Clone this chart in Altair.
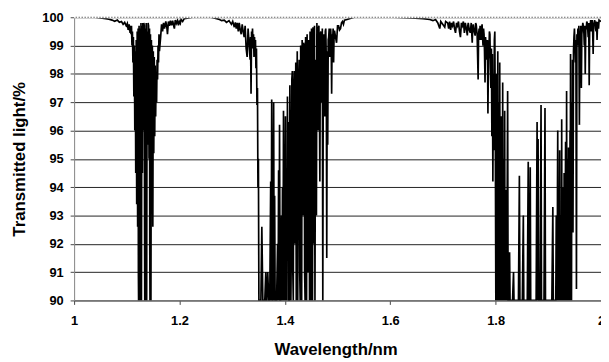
import altair as alt
import pandas as pd

# (wavelength nm, transmitted light %) pairs
shoulder_1 = [
    (1.000, 100), (1.040, 100), (1.050, 99.98), (1.060, 99.95), (1.066, 99.93),
    (1.072, 99.9), (1.077, 99.86), (1.082, 99.9), (1.086, 99.82), (1.090, 99.85),
    (1.093, 99.75), (1.096, 99.82), (1.0989, 99.7), (1.1010, 99.78), (1.1026, 99.55),
    (1.1045, 99.75), (1.1063, 99.45), (1.1072, 99.7),
]

band_1 = [
    (1.1080, 99.4), (1.1089, 99.7), (1.1098, 99.0), (1.1107, 99.5), (1.1116, 98.4),
    (1.1125, 99.3), (1.1134, 97.2), (1.1143, 99.0), (1.1152, 96.0), (1.1161, 98.8),
    (1.1170, 94.5), (1.1179, 99.2), (1.1188, 93.4), (1.1197, 99.5), (1.1206, 92.6),
    (1.1215, 99.6), (1.1220, 91), (1.1224, 90), (1.1228, 96), (1.1233, 99.7),
    (1.1238, 92), (1.1242, 90), (1.1246, 95), (1.1251, 99.6), (1.1256, 91),
    (1.1260, 90), (1.1265, 94), (1.1269, 99.8), (1.1274, 92), (1.1278, 90),
    (1.1283, 96), (1.1287, 99.7), (1.1296, 94.5), (1.1305, 99.8), (1.1314, 96.0),
    (1.1323, 99.8), (1.1332, 99.7), (1.1337, 93), (1.1341, 90), (1.1346, 95),
    (1.1350, 99.6), (1.1355, 92), (1.1359, 90), (1.1364, 96), (1.1368, 99.8),
    (1.1373, 91), (1.1377, 90), (1.1386, 99.5), (1.1395, 95.5), (1.1404, 99.8),
    (1.1413, 99.7), (1.1422, 95.0), (1.1431, 99.6), (1.1436, 92), (1.1440, 90),
    (1.1445, 96), (1.1449, 99.4), (1.1454, 91), (1.1458, 90), (1.1467, 99.2),
    (1.1476, 94.0), (1.1485, 99.0), (1.1494, 92.6), (1.1503, 98.8), (1.1512, 95.2),
    (1.1521, 98.6), (1.1530, 95.8), (1.1539, 98.3), (1.1548, 96.5), (1.1557, 98.0),
    (1.1566, 97.0), (1.1575, 98.5), (1.1584, 97.8), (1.1593, 99.0), (1.1602, 98.4),
    (1.1611, 99.4), (1.1620, 98.8),
]

shoulder_2 = [
    (1.1642, 99.3), (1.1660, 99.75), (1.1679, 99.5), (1.1697, 99.8), (1.1716, 99.6),
    (1.1740, 99.85), (1.1760, 99.65), (1.1772, 99.4), (1.1790, 99.85), (1.1810, 99.7),
    (1.1828, 99.88), (1.1850, 99.72), (1.1870, 99.88), (1.1890, 99.7), (1.1903, 99.6),
    (1.1920, 99.9), (1.1940, 99.78), (1.1960, 99.88), (1.1980, 99.72), (1.1996, 99.85),
    (1.2015, 99.78), (1.2030, 99.92), (1.2060, 99.85), (1.2090, 99.95), (1.2150, 99.97),
    (1.2239, 100), (1.2600, 100),
    (1.2705, 99.95), (1.2760, 99.92), (1.2799, 99.88), (1.2850, 99.9), (1.2892, 99.82),
    (1.2940, 99.88), (1.2985, 99.75), (1.3010, 99.85), (1.3041, 99.65), (1.3060, 99.82),
    (1.3078, 99.6), (1.3097, 99.8), (1.3116, 99.5), (1.3134, 99.8), (1.3153, 99.55),
    (1.3172, 99.4), (1.3190, 99.75), (1.3209, 99.5), (1.3228, 99.3), (1.3246, 99.7),
    (1.3265, 98.9), (1.3284, 98.6), (1.3302, 99.6), (1.3321, 99.1), (1.3340, 98.5),
    (1.3349, 99.3), (1.3358, 97.3), (1.3368, 99.5), (1.3377, 99.2), (1.3386, 99.6),
    (1.3396, 98.9), (1.3405, 99.4), (1.3414, 98.6), (1.3424, 99.3), (1.3433, 98.8),
    (1.3442, 99.2), (1.3451, 98.2), (1.3461, 98.9), (1.3470, 96.9), (1.3480, 97.5),
    (1.3489, 94.0), (1.3498, 95.0),
]

band_2 = [
    (1.3507, 90), (1.3545, 90), (1.3563, 92.6), (1.3582, 90), (1.3619, 90),
    (1.3638, 91.0), (1.3647, 90), (1.3657, 90), (1.3675, 91.0), (1.3694, 90),
    (1.3713, 90), (1.3731, 94.2), (1.3741, 90), (1.3750, 97.1), (1.3760, 90),
    (1.3769, 90), (1.3787, 97.0), (1.3797, 90), (1.3806, 93.7), (1.3815, 90),
    (1.3843, 90), (1.3862, 92.0), (1.3872, 90), (1.3881, 94.6), (1.3890, 90),
    (1.3899, 96.2), (1.3909, 90), (1.3918, 90), (1.3937, 93.0), (1.3946, 90),
    (1.3955, 94.0), (1.3965, 90), (1.3974, 96.7), (1.3984, 91), (1.3993, 90),
    (1.4011, 96.5), (1.4020, 90), (1.4030, 91.0), (1.4040, 90), (1.4049, 97.2),
    (1.4058, 92), (1.4067, 96.3), (1.4076, 90), (1.4086, 90), (1.4095, 97.6),
    (1.4104, 95.0), (1.4114, 90), (1.4123, 92.0), (1.4132, 97.8), (1.4142, 98.1),
    (1.4151, 91), (1.4160, 90), (1.4170, 97.5), (1.4179, 98.1), (1.4188, 92),
    (1.4198, 94.0), (1.4207, 98.4), (1.4216, 90), (1.4226, 96), (1.4235, 98.8),
    (1.4244, 90), (1.4254, 95.0), (1.4263, 97.8), (1.4272, 98.5), (1.4282, 91),
    (1.4291, 90), (1.4300, 99.0), (1.4310, 97.0), (1.4319, 90), (1.4328, 99.2),
    (1.4338, 94), (1.4347, 93.0), (1.4356, 99.1), (1.4366, 99.0), (1.4375, 91),
    (1.4384, 90), (1.4394, 99.3), (1.4403, 96.0), (1.4412, 90), (1.4422, 99.4),
    (1.4431, 93), (1.4440, 91.0), (1.4450, 99.2), (1.4459, 98.0), (1.4468, 90),
    (1.4478, 99.5), (1.4487, 94), (1.4496, 90), (1.4506, 99.6), (1.4515, 97.0),
    (1.4524, 90), (1.4534, 99.65), (1.4543, 95), (1.4552, 92.0), (1.4562, 99.7),
    (1.4571, 90), (1.4580, 96), (1.4590, 98.5), (1.4599, 93), (1.4608, 99.8),
    (1.4618, 97), (1.4627, 96.0), (1.4636, 99.6), (1.4646, 99.7), (1.4655, 97.5),
    (1.4664, 94.2), (1.4674, 99.4), (1.4683, 99.5), (1.4692, 98), (1.4701, 97.0),
    (1.4711, 99.6), (1.4720, 90), (1.4730, 99.2), (1.4739, 99.4), (1.4748, 98),
    (1.4757, 96.5), (1.4767, 99.5), (1.4776, 99.6), (1.4786, 98.5), (1.4795, 91.5),
    (1.4804, 98.8), (1.4813, 95.5), (1.4823, 99.2), (1.4832, 99.3), (1.4841, 99.6),
    (1.4851, 98.6), (1.4860, 99.4), (1.4869, 99.6), (1.4879, 99.2), (1.4888, 97.3),
    (1.4897, 99.4), (1.4907, 99.2), (1.4916, 99.6), (1.4925, 98.4), (1.4935, 99.5),
    (1.4944, 99.5),
]

shoulder_3 = [
    (1.4962, 99.3), (1.4981, 99.1), (1.5000, 99.7), (1.5019, 99.7), (1.5037, 99.55),
    (1.5056, 99.6), (1.5075, 99.8), (1.5093, 99.85), (1.5112, 99.75), (1.5131, 99.9),
    (1.5180, 99.92), (1.5224, 99.95), (1.5317, 100), (1.6063, 100), (1.6400, 99.98),
    (1.6623, 99.95), (1.6750, 99.92), (1.6810, 99.88), (1.6860, 99.92), (1.6903, 99.8),
    (1.6940, 99.6), (1.6959, 99.85), (1.6996, 99.75), (1.7034, 99.65), (1.7052, 99.85),
    (1.7090, 99.8), (1.7109, 99.6), (1.7127, 99.85), (1.7146, 99.55), (1.7165, 99.8),
    (1.7183, 99.7), (1.7202, 99.85), (1.7220, 99.6), (1.7239, 99.45), (1.7258, 99.8),
    (1.7276, 99.7), (1.7295, 99.85), (1.7314, 99.5), (1.7332, 99.3), (1.7351, 99.8),
    (1.7369, 99.7), (1.7388, 99.85), (1.7407, 99.45), (1.7425, 99.8), (1.7444, 99.6),
    (1.7463, 99.36), (1.7472, 99.7), (1.7481, 99.8), (1.7500, 99.55), (1.7519, 99.45),
    (1.7537, 99.8), (1.7556, 99.1), (1.7565, 99.6), (1.7575, 99.75), (1.7593, 99.5),
    (1.7612, 99.35), (1.7621, 99.8), (1.7631, 99.75), (1.7649, 99.4), (1.7668, 97.8),
    (1.7677, 99.4), (1.7687, 99.6), (1.7696, 99.2), (1.7705, 99.7), (1.7724, 99.2),
    (1.7733, 99.6), (1.7743, 99.75), (1.7752, 99.3), (1.7761, 99.0), (1.7771, 99.6),
    (1.7780, 99.4), (1.7789, 98.8), (1.7799, 97.7), (1.7808, 99.3), (1.7817, 99.1),
    (1.7827, 98.5), (1.7836, 98.8), (1.7845, 99.2), (1.7854, 96.6), (1.7864, 98.5),
    (1.7873, 98.8), (1.7882, 99.5), (1.7892, 99.4), (1.7901, 98.2), (1.7910, 97.5),
    (1.7920, 98.9), (1.7929, 95.8), (1.7938, 98.7), (1.7948, 94.2), (1.7957, 98.0),
    (1.7966, 95.3), (1.7976, 99.2), (1.7985, 99.5), (1.7994, 96.0),
]

band_3 = [
    (1.8004, 90), (1.8008, 97), (1.8013, 98.0), (1.8018, 92), (1.8022, 93),
    (1.8027, 97.5), (1.8032, 90), (1.8036, 96), (1.8041, 98.8), (1.8046, 94),
    (1.8050, 92), (1.8055, 97), (1.8060, 90), (1.8069, 96), (1.8074, 92),
    (1.8078, 98.4), (1.8083, 94), (1.8088, 90), (1.8092, 96), (1.8097, 92),
    (1.8106, 96.5), (1.8111, 93), (1.8116, 90), (1.8120, 95.5), (1.8125, 94),
    (1.8130, 91), (1.8134, 97.7), (1.8139, 93), (1.8144, 90), (1.8148, 95),
    (1.8153, 91), (1.8162, 93), (1.8167, 90), (1.8172, 96.7), (1.8176, 92),
    (1.8181, 90), (1.8190, 93.9), (1.8200, 91), (1.8209, 90), (1.8218, 93),
    (1.8228, 97.4), (1.8237, 90), (1.8246, 90), (1.8265, 91.7), (1.8274, 90),
    (1.8284, 90), (1.8321, 90), (1.8340, 91.0), (1.8349, 90), (1.8433, 90),
    (1.8451, 94.4), (1.8461, 90), (1.8507, 90), (1.8526, 93.0), (1.8535, 90),
    (1.8601, 90), (1.8619, 94.9), (1.8629, 90), (1.8638, 90), (1.8657, 94.7),
    (1.8666, 90), (1.8769, 90), (1.8787, 96.3), (1.8797, 90), (1.8806, 95.7),
    (1.8815, 90), (1.8843, 90), (1.8862, 96.9), (1.8871, 90), (1.8918, 90),
    (1.8937, 96.8), (1.8946, 90), (1.9067, 90), (1.9086, 93.3), (1.9095, 90),
    (1.9142, 90), (1.9151, 93), (1.9160, 90.9), (1.9170, 90), (1.9174, 94),
    (1.9179, 96.0), (1.9184, 92), (1.9188, 90), (1.9198, 92), (1.9207, 90),
    (1.9212, 93), (1.9216, 95.3), (1.9221, 91), (1.9226, 90), (1.9235, 91),
    (1.9244, 93), (1.9249, 90), (1.9254, 96.4), (1.9258, 92), (1.9263, 90),
    (1.9268, 94), (1.9272, 90), (1.9282, 92), (1.9291, 93.5), (1.9296, 90),
    (1.9300, 94.5), (1.9305, 90), (1.9310, 92), (1.9319, 90), (1.9324, 94),
    (1.9328, 95.6), (1.9333, 91), (1.9338, 93), (1.9342, 90), (1.9347, 97.4),
    (1.9352, 93), (1.9356, 90), (1.9361, 95), (1.9366, 90), (1.9375, 93),
    (1.9380, 90), (1.9384, 95.4), (1.9389, 92), (1.9394, 90), (1.9403, 92),
    (1.9408, 90), (1.9412, 96), (1.9417, 93), (1.9422, 98.7), (1.9426, 94),
    (1.9431, 90), (1.9436, 96), (1.9440, 90), (1.9445, 95), (1.9450, 97),
    (1.9454, 93), (1.9459, 98.5), (1.9468, 92.4), (1.9478, 98.8),
]

shoulder_4 = [
    (1.9487, 99.3), (1.9496, 99.6), (1.9506, 99.0), (1.9515, 98.4), (1.9524, 99.2),
    (1.9534, 90.4), (1.9543, 99.4), (1.9552, 99.0), (1.9562, 99.6), (1.9571, 99.4),
    (1.9580, 99.7), (1.9590, 96.2), (1.9599, 99.5), (1.9608, 99.3), (1.9618, 99.7),
    (1.9627, 97.5), (1.9636, 99.4), (1.9646, 99.6), (1.9655, 99.8), (1.9664, 99.7),
    (1.9674, 99.5), (1.9683, 99.0), (1.9692, 99.7), (1.9701, 98.0), (1.9711, 99.6),
    (1.9720, 99.6), (1.9730, 99.85), (1.9739, 99.8), (1.9748, 99.6), (1.9757, 99.3),
    (1.9767, 99.8), (1.9776, 97.6), (1.9785, 99.6), (1.9795, 99.7), (1.9804, 99.9),
    (1.9813, 99.5), (1.9823, 99.8), (1.9832, 99.9), (1.9841, 99.6), (1.9851, 98.7),
    (1.9860, 99.7), (1.9869, 99.8), (1.9879, 99.9), (1.9888, 99.8), (1.9897, 99.6),
    (1.9907, 99.5), (1.9916, 99.85), (1.9925, 99.2), (1.9935, 99.8), (1.9944, 99.8),
    (1.9953, 99.6), (1.9963, 99.9), (2.0000, 99.85),
]

x_ticks = [1, 1.2, 1.4, 1.6, 1.8, 2]
y_ticks = [90, 91, 92, 93, 94, 95, 96, 97, 98, 99, 100]
top_line = 100

rows = shoulder_1 + band_1 + shoulder_2 + band_2 + shoulder_3 + band_3 + shoulder_4
df = pd.DataFrame(rows, columns=["wavelength", "transmission"])

FONT = "Liberation Sans"

x_scale = alt.Scale(domain=[1, 2], nice=False, zero=False)
y_scale = alt.Scale(domain=[90, 100], nice=False, zero=False)

x_axis = alt.Axis(
    values=x_ticks, format="~g", title="Wavelength/nm", grid=False,
    domainColor="#777", tickColor="#444", tickSize=4,
    labelPadding=10, labelFont=FONT, labelFontSize=13, labelFontWeight="bold",
    labelColor="black", labelFlush=False, labelOverlap=False,
    titleFont=FONT, titleFontSize=17, titleFontWeight="bold", titleColor="black",
    titleX=265, titleY=50, titleBaseline="middle", titleAlign="center",
)
y_axis = alt.Axis(
    values=y_ticks, format="d", title="Transmitted light/%", grid=True,
    gridColor="#222", gridWidth=1,
    domainColor="#888", tickColor="#444", tickSize=4,
    labelPadding=7, labelFont=FONT, labelFontSize=13, labelFontWeight="bold",
    labelColor="black", labelFlush=False, labelOverlap=False,
    titleFont=FONT, titleFontSize=17, titleFontWeight="bold", titleColor="black",
    titleX=-55, titleY=143.5, titleAngle=270, titleBaseline="middle", titleAlign="center",
)

spectrum = alt.Chart(df).mark_line(color="black", strokeWidth=1.7, clip=True).encode(
    x=alt.X("wavelength:Q", scale=x_scale, axis=x_axis),
    y=alt.Y("transmission:Q", scale=y_scale, axis=y_axis),
)

# the 100 % line is dotted over the spectrum, as in the reference
top_df = pd.DataFrame({"transmission": [top_line]})
top_mask = alt.Chart(top_df).mark_rule(color="white", strokeWidth=2.2).encode(
    y=alt.Y("transmission:Q", scale=y_scale, axis=y_axis)
)
top_dots = alt.Chart(top_df).mark_rule(
    color="#666", strokeWidth=1, strokeDash=[1.5, 1.5]
).encode(y=alt.Y("transmission:Q", scale=y_scale, axis=y_axis))

chart = alt.layer(spectrum, top_mask, top_dots).properties(
    width=534,
    height=287,
    autosize=alt.AutoSizeParams(type="none"),
    padding={"left": 67, "top": 7, "right": 0, "bottom": 60},
).configure_view(stroke=None).configure(background="white")

chart.save("out.html", embed_options={"renderer": "svg", "actions": False})
